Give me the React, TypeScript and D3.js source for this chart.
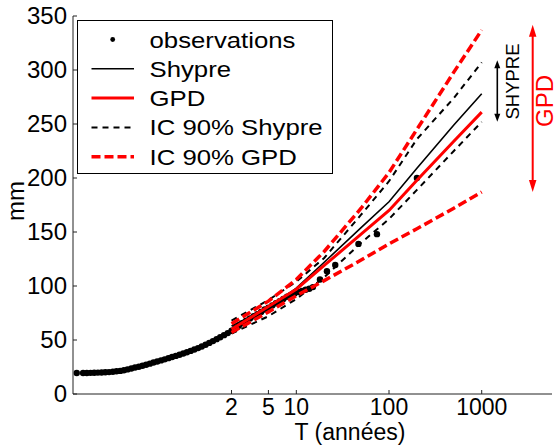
import React from "react";
import * as d3 from "d3";

// Return periods (years) at which the fitted curves are evaluated
const T_GRID = [2, 5, 10, 20, 50, 100, 200, 500, 1000];

// Quantiles (mm)
const shypre = [63, 80, 98, 122, 154, 178, 209, 249, 278];
const gpd = [60, 81, 97, 119, 148, 170, 198, 234, 261];
const shypreLow = [56, 72, 88, 108, 140, 162, 189, 225, 252];
const shypreHigh = [68, 87, 104, 126, 166, 197, 236, 274, 307];
const gpdLow = [57, 76, 91, 105, 124, 139, 153, 172, 187];
const gpdHigh = [65, 86, 106, 132, 172, 205, 245, 298, 337];

// Empirical return periods (years) and observed values (mm)
const obsT = [
  0.0428, 0.0501, 0.055, 0.0603, 0.0661, 0.0724, 0.0794, 0.0871, 0.0955, 0.105,
  0.115, 0.126, 0.138, 0.151, 0.166, 0.182, 0.2, 0.219, 0.24, 0.263, 0.288,
  0.316, 0.347, 0.38, 0.417, 0.457, 0.501, 0.55, 0.603, 0.661, 0.724, 0.794,
  0.871, 0.955, 1.05, 1.15, 1.26, 1.38, 1.51, 1.66, 1.82, 2.0, 2.19, 2.4, 2.63,
  2.88, 3.16, 3.47, 3.8, 4.17, 4.57, 5.01, 5.5, 6.03, 6.61, 7.24, 7.94, 8.71,
  9.55, 10.5, 11.5, 12.6, 13.8, 15.1, 18.0, 21.4, 26.3, 46.8, 74.1, 200,
];
const obsMm = [
  19.5, 19.5, 19.5, 19.6, 19.7, 19.8, 19.9, 20.1, 20.3, 20.6, 21.0, 21.4, 22.0,
  22.8, 23.6, 24.5, 25.3, 26.2, 27.1, 28.1, 29.1, 30.1, 31.1, 32.1, 33.2, 34.3,
  35.3, 36.4, 37.5, 38.6, 39.9, 41.2, 42.5, 44.0, 45.6, 47.3, 49.0, 50.8, 52.5,
  54.5, 56.4, 58.5, 61.0, 63.2, 65.5, 67.8, 70.0, 72.0, 74.0, 76.0, 78.2, 80.0,
  82.0, 84.0, 86.0, 88.0, 90.0, 91.5, 93.0, 94.5, 95.5, 96.5, 97.5, 99.0, 106,
  113.6, 119.5, 139, 148, 200,
];

const xTicks = [2, 5, 10, 100, 1000];
const yTicks = [0, 50, 100, 150, 200, 250, 300, 350];

// Uncertainty spans annotated at the right (mm)
const spanShypre = [252, 309];
const spanGpd = [187, 342];

const FONT = "'Liberation Sans', Arial, Helvetica, sans-serif";
const RED = "#ff0000";

const W = 557;
const H = 446;
const X0 = 73;
const X1 = 552;
const Y0 = 394;
const Y1 = 16;

const x = d3.scaleLog().domain([0.039, 5730]).range([X0, X1]);
const y = d3.scaleLinear().domain([0, 350]).range([Y0, Y1]);

const line = d3
  .line<[number, number]>()
  .x((d) => x(d[0]))
  .y((d) => y(d[1]));

const pts = (vals: number[]) =>
  T_GRID.map((t, i) => [t, vals[i]] as [number, number]);

type SeriesStyle = {
  name: string;
  vals: number[];
  color: string;
  width: number;
  dash?: string;
};

const series: SeriesStyle[] = [
  { name: "Shypre", vals: shypre, color: "#000", width: 1.6 },
  { name: "GPD", vals: gpd, color: RED, width: 3 },
  { name: "IC 90% Shypre", vals: shypreLow, color: "#000", width: 2, dash: "6,5" },
  { name: "IC 90% Shypre", vals: shypreHigh, color: "#000", width: 2, dash: "6,5" },
  { name: "IC 90% GPD", vals: gpdLow, color: RED, width: 3.5, dash: "9,4" },
  { name: "IC 90% GPD", vals: gpdHigh, color: RED, width: 3.5, dash: "9,4" },
];

const legendItems = [
  { label: "observations", kind: "dot", color: "#000", width: 0 },
  { label: "Shypre", kind: "line", color: "#000", width: 1.6 },
  { label: "GPD", kind: "line", color: RED, width: 3 },
  { label: "IC 90% Shypre", kind: "line", color: "#000", width: 2, dash: "6,5" },
  { label: "IC 90% GPD", kind: "line", color: RED, width: 3.5, dash: "9,4" },
] as { label: string; kind: string; color: string; width: number; dash?: string }[];

function VArrow({
  cx,
  yTop,
  yBot,
  color,
  width,
  head,
  headW,
}: {
  cx: number;
  yTop: number;
  yBot: number;
  color: string;
  width: number;
  head: number;
  headW: number;
}) {
  return (
    <g>
      <line
        x1={cx}
        x2={cx}
        y1={yTop + head - 1}
        y2={yBot - head + 1}
        stroke={color}
        strokeWidth={width}
      />
      <path
        d={`M${cx},${yTop} L${cx - headW / 2},${yTop + head} L${cx + headW / 2},${yTop + head} Z`}
        fill={color}
      />
      <path
        d={`M${cx},${yBot} L${cx - headW / 2},${yBot - head} L${cx + headW / 2},${yBot - head} Z`}
        fill={color}
      />
    </g>
  );
}

export default function App() {
  const legX = 77.5;
  const legY = 20.5;
  const legW = 255;
  const legH = 153;
  const rowY = (i: number) => 39.5 + i * 29.3;

  return (
    <svg
      width={W}
      height={H}
      viewBox={`0 0 ${W} ${H}`}
      style={{ position: "absolute", left: 0, top: 0, background: "#fff" }}
      fontFamily={FONT}
    >
      <rect x={0} y={0} width={W} height={H} fill="#fff" />

      {/* observations */}
      <g fill="#000">
        {obsT.map((t, i) => (
          <circle key={i} cx={x(t)} cy={y(obsMm[i])} r={3.2} />
        ))}
      </g>

      {/* fitted curves and confidence bounds */}
      {series.map((s, i) => (
        <path
          key={i}
          d={line(pts(s.vals)) || ""}
          fill="none"
          stroke={s.color}
          strokeWidth={s.width}
          strokeDasharray={s.dash}
        />
      ))}

      {/* axes */}
      <g stroke="#222" strokeWidth={1} fill="none">
        <line x1={X0} x2={X0} y1={Y1} y2={Y0} />
        <line x1={X0} x2={X1} y1={Y0} y2={Y0} />
        {yTicks.map((v) => (
          <line key={v} x1={X0} x2={X0 + 4} y1={y(v)} y2={y(v)} />
        ))}
        {xTicks.map((v) => (
          <line key={v} x1={x(v)} x2={x(v)} y1={Y0} y2={Y0 - 4} />
        ))}
      </g>
      <g fontSize={24} fill="#000">
        {yTicks.map((v) => (
          <text key={v} x={X0 - 6} y={y(v)} dy="0.35em" textAnchor="end">
            {v}
          </text>
        ))}
        {xTicks.map((v) => (
          <text key={v} x={x(v)} y={415} fontSize={23} textAnchor="middle">
            {v}
          </text>
        ))}
        <text x={350} y={440} fontSize={23} textAnchor="middle">
          T (années)
        </text>
        <text
          transform="translate(16,201) rotate(-90)"
          dy="0.35em"
          textAnchor="middle"
        >
          mm
        </text>
      </g>

      {/* legend */}
      <rect
        x={legX}
        y={legY}
        width={legW}
        height={legH}
        fill="#fff"
        stroke="#000"
        strokeWidth={1}
      />
      {legendItems.map((it, i) => (
        <g key={it.label}>
          {it.kind === "dot" ? (
            <circle cx={112.7} cy={rowY(i)} r={2.4} fill="#000" />
          ) : (
            <line
              x1={91.5}
              x2={134}
              y1={rowY(i)}
              y2={rowY(i)}
              stroke={it.color}
              strokeWidth={it.width}
              strokeDasharray={it.dash}
            />
          )}
          <text
            transform={`translate(149.5,${rowY(i)}) scale(1.12,1)`}
            dy="0.35em"
            fontSize={23}
            fill="#000"
          >
            {it.label}
          </text>
        </g>
      ))}

      {/* uncertainty span annotations */}
      <VArrow
        cx={497.3}
        yTop={y(spanShypre[1])}
        yBot={y(spanShypre[0])}
        color="#000"
        width={1.6}
        head={8}
        headW={6}
      />
      <text
        transform="translate(513,81.5) rotate(-90)"
        dy="0.35em"
        textAnchor="middle"
        fontSize={18.5}
        fill="#000"
      >
        SHYPRE
      </text>
      <VArrow
        cx={532.7}
        yTop={y(spanGpd[1])}
        yBot={y(spanGpd[0])}
        color={RED}
        width={2}
        head={12}
        headW={7.5}
      />
      <text
        transform="translate(545,101) rotate(-90)"
        dy="0.35em"
        textAnchor="middle"
        fontSize={24}
        fill={RED}
      >
        GPD
      </text>
    </svg>
  );
}
